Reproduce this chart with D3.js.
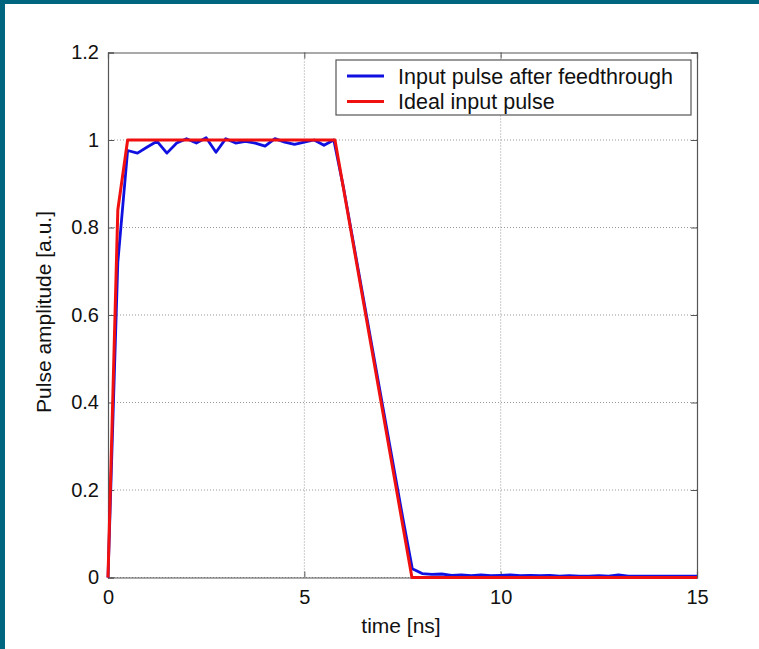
<!DOCTYPE html>
<html>
<head>
<meta charset="utf-8">
<script src="https://cdn.jsdelivr.net/npm/d3@7"></script>
<style>
  html, body { margin: 0; padding: 0; background: #ffffff; }
  svg { display: block; }
  text { font-family: "Liberation Sans", Arial, sans-serif; fill: #111; }
</style>
</head>
<body>
<svg id="chart" width="759" height="649"></svg>
<script>
// ---- data ----
const xTicks = [0, 5, 10, 15];
const yTicks = [0, 0.2, 0.4, 0.6, 0.8, 1, 1.2];
const yTickLabels = ["0", "0.2", "0.4", "0.6", "0.8", "1", "1.2"];
const seriesNames = ["Input pulse after feedthrough", "Ideal input pulse"];

// Input pulse after feedthrough (sampled every 0.25 ns)
const blueTime = [0, 0.25, 0.5, 0.75, 1.0, 1.25, 1.5, 1.75, 2.0, 2.25, 2.5, 2.75, 3.0, 3.25, 3.5, 3.75,
  4.0, 4.25, 4.5, 4.75, 5.0, 5.25, 5.5, 5.75, 6.0, 6.25, 6.5, 6.75, 7.0, 7.25, 7.5, 7.75,
  8.0, 8.25, 8.5, 8.75, 9.0, 9.25, 9.5, 9.75, 10.0, 10.25, 10.5, 10.75, 11.0, 11.25, 11.5, 11.75,
  12.0, 12.25, 12.5, 12.75, 13.0, 13.25, 13.5, 13.75, 14.0, 14.25, 14.5, 14.75, 15.0];
const blueValue = [0, 0.72, 0.976, 0.970, 0.984, 0.997, 0.970, 0.993, 1.003, 0.993, 1.005, 0.972, 1.003, 0.993, 0.997, 0.993,
  0.986, 1.003, 0.995, 0.990, 0.995, 1.0, 0.988, 1.0, 0.89, 0.765, 0.64, 0.515, 0.39, 0.265, 0.14, 0.02,
  0.009, 0.007, 0.008, 0.005, 0.006, 0.004, 0.006, 0.004, 0.005, 0.006, 0.004, 0.005, 0.004, 0.005, 0.003, 0.004,
  0.003, 0.003, 0.004, 0.003, 0.006, 0.003, 0.003, 0.003, 0.003, 0.003, 0.003, 0.003, 0.003];

// Ideal input pulse
const redTime = [0, 0.25, 0.5, 5.78, 7.74, 15];
const redValue = [0, 0.84, 1, 1, 0, 0];

// ---- layout ----
const svg = d3.select("#chart");
const W = 759, H = 649;
const mLeft = 108, mRight = 697, mTop = 52.5, mBottom = 577.5;

const x = d3.scaleLinear().domain([0, 15]).range([mLeft, mRight]);
const y = d3.scaleLinear().domain([0, 1.2]).range([mBottom, mTop]);

// teal frame
svg.append("rect").attr("x", 0).attr("y", 0).attr("width", W).attr("height", 4).attr("fill", "#00667f");
svg.append("rect").attr("x", 0).attr("y", 0).attr("width", 5).attr("height", H).attr("fill", "#00667f");

// grid
const grid = svg.append("g");
grid.selectAll("line.gx").data(xTicks.slice(1, -1)).join("line")
  .attr("x1", d => x(d)).attr("x2", d => x(d)).attr("y1", mTop).attr("y2", mBottom)
  .attr("stroke", "#999").attr("stroke-width", 1).attr("stroke-dasharray", "1,2");
grid.selectAll("line.gy").data(yTicks.slice(0, -1)).join("line")
  .attr("y1", d => y(d)).attr("y2", d => y(d)).attr("x1", mLeft).attr("x2", mRight)
  .attr("stroke", "#999").attr("stroke-width", 1).attr("stroke-dasharray", "1,2");

// axes (ticks inward)
const axB = svg.append("g").attr("transform", `translate(0,${mBottom})`)
  .call(d3.axisBottom(x).tickValues(xTicks).tickSize(-6).tickPadding(12).tickFormat(d3.format("d")));
const axT = svg.append("g").attr("transform", `translate(0,${mTop})`)
  .call(d3.axisTop(x).tickValues(xTicks).tickSize(-6).tickFormat(""));
const axL = svg.append("g").attr("transform", `translate(${mLeft},0)`)
  .call(d3.axisLeft(y).tickValues(yTicks).tickSize(-6).tickPadding(9).tickFormat((d, i) => yTickLabels[i]));
const axR = svg.append("g").attr("transform", `translate(${mRight},0)`)
  .call(d3.axisRight(y).tickValues(yTicks).tickSize(-6).tickFormat(""));
[axB, axT, axL, axR].forEach(a => {
  a.select(".domain").attr("stroke", "#555").attr("stroke-width", 1.2);
  a.selectAll(".tick line").attr("stroke", "#555");
  a.selectAll("text").style("font-family", "'Liberation Sans', Arial, sans-serif")
    .style("font-size", "20px").attr("fill", "#111");
});
axB.selectAll("text").attr("dy", "0.71em");

// lines
const line = d3.line().x(d => x(d[0])).y(d => y(d[1]));
const blueData = blueTime.map((t, i) => [t, blueValue[i]]);
const redData = redTime.map((t, i) => [t, redValue[i]]);
svg.append("path").datum(blueData).attr("d", line)
  .attr("fill", "none").attr("stroke", "#1010e0").attr("stroke-width", 2.8).attr("stroke-linejoin", "round");
svg.append("path").datum(redData).attr("d", line)
  .attr("fill", "none").attr("stroke", "#f01010").attr("stroke-width", 3).attr("stroke-linejoin", "round");

// legend
const lg = svg.append("g");
lg.append("rect").attr("x", 336).attr("y", 60).attr("width", 355).attr("height", 55)
  .attr("fill", "#fff").attr("stroke", "#555").attr("stroke-width", 1.2);
const legColors = ["#1010e0", "#f01010"];
seriesNames.forEach((n, i) => {
  const yy = 76 + i * 25.5;
  lg.append("line").attr("x1", 347).attr("x2", 384).attr("y1", yy).attr("y2", yy)
    .attr("stroke", legColors[i]).attr("stroke-width", 2.8);
  lg.append("text").attr("x", 398).attr("y", yy + 7.5).style("font-size", "21.5px").text(n);
});

// axis labels
svg.append("text").attr("x", 401).attr("y", 633).attr("text-anchor", "middle")
  .style("font-size", "21px").text("time [ns]");
svg.append("text").attr("transform", `translate(51,${312}) rotate(-90)`)
  .attr("text-anchor", "middle").style("font-size", "21px").text("Pulse amplitude [a.u.]");
</script>
</body>
</html>
